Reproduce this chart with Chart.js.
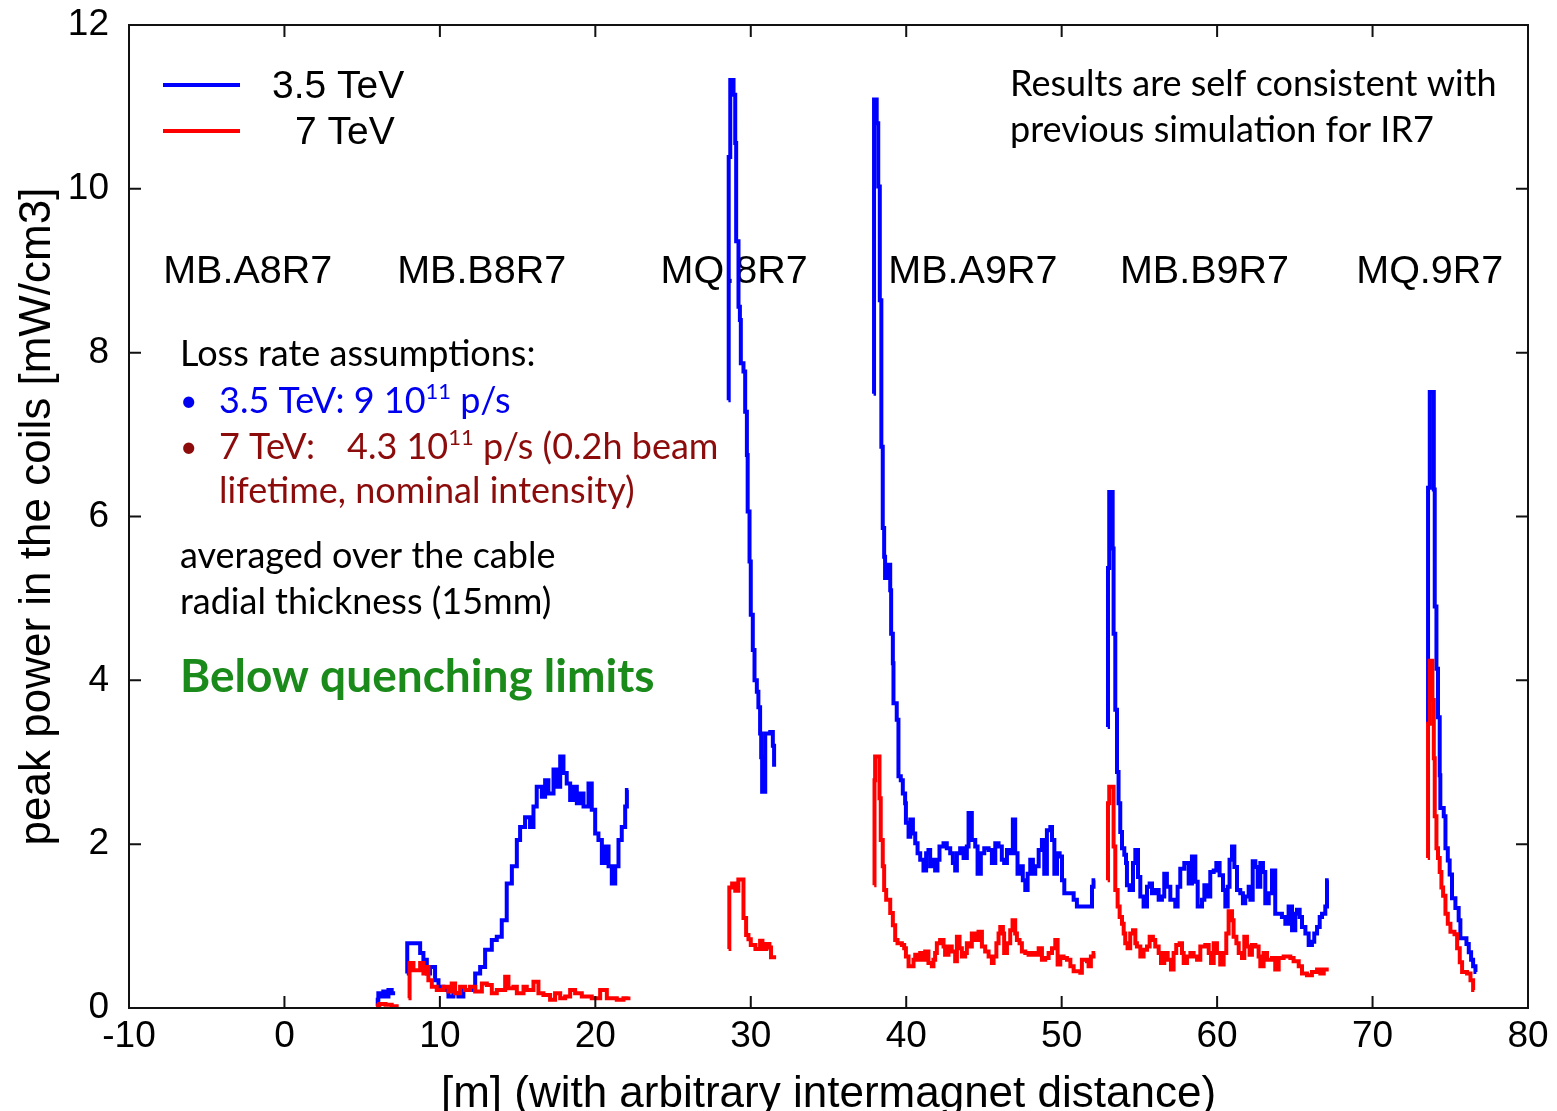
<!DOCTYPE html>
<html>
<head>
<meta charset="utf-8">
<script src="https://cdn.jsdelivr.net/npm/chart.js@4.4.1/dist/chart.umd.min.js"></script>
<style>
  html, body { margin: 0; padding: 0; background: #fff; }
  canvas { display: block; }
</style>
</head>
<body>
<canvas id="coils" width="1557" height="1111"></canvas>
<script>
// axis ranges
var xLimits = [-10, 80];
var yLimits = [0, 12];
var xStep = 10;
var yStep = 2;

var seriesNames = ['3.5 TeV', '7 TeV'];
var magnetNames = ['MB.A8R7', 'MB.B8R7', 'MQ.8R7', 'MB.A9R7', 'MB.B9R7', 'MQ.9R7'];

// 3.5 TeV, one array per magnet: [position m, peak power mW/cm3], value holds until next position
var blueA8 = [[5.94,0.02],[6.0,0.1],[6.04,0.18],[6.26,0.14],[6.36,0.2],[6.47,0.14],[6.69,0.22],[6.9,0.18],[7.12,0.18]];
var blueB8 = [[7.87,0.42],[7.9,0.79],[8.73,0.67],[8.94,0.59],[9.16,0.42],[9.37,0.5],[9.58,0.5],[9.69,0.34],[9.91,0.26],
  [10.23,0.22],[10.55,0.14],[10.87,0.18],[11.19,0.14],[11.51,0.22],[11.94,0.22],[12.27,0.42],[12.59,0.5],[12.91,0.71],
  [13.34,0.83],[13.66,0.87],[13.98,1.07],[14.3,1.52],[14.63,1.73],[14.95,2.05],[15.16,2.21],[15.48,2.33],[15.8,2.21],
  [16.02,2.46],[16.23,2.7],[16.56,2.58],[16.77,2.78],[16.98,2.62],[17.31,2.91],[17.52,2.7],[17.74,3.07],[17.95,2.87],
  [18.16,2.74],[18.38,2.54],[18.59,2.7],[18.81,2.5],[19.02,2.62],[19.24,2.46],[19.56,2.74],[19.77,2.42],[19.99,2.13],
  [20.2,2.05],[20.42,1.77],[20.63,1.97],[20.85,1.73],[21.06,1.52],[21.28,1.73],[21.49,2.05],[21.7,2.21],[21.92,2.46],
  [22.03,2.66],[22.13,2.66]];
var blueQ8 = [[28.56,7.42],[28.58,10.39],[28.68,11.33],[28.89,11.15],[29.0,10.56],[29.06,9.36],[29.21,8.56],[29.3,8.4],
  [29.36,7.87],[29.53,7.77],[29.64,7.28],[29.75,6.75],[29.8,6.06],[29.92,5.45],[30.0,4.8],[30.13,4.37],[30.24,4.0],
  [30.39,3.86],[30.49,3.67],[30.6,3.35],[30.67,3.06],[30.73,2.64],[30.93,3.35],[31.25,3.37],[31.42,3.2],[31.5,2.97],[31.63,2.97]];
var blueA9 = [[37.9,7.5],[37.93,11.09],[38.1,10.8],[38.2,10.03],[38.3,8.64],[38.4,6.85],[38.49,5.86],[38.58,5.51],
  [38.64,5.25],[38.75,5.41],[38.97,5.1],[39.03,4.57],[39.14,4.21],[39.18,3.72],[39.39,3.52],[39.5,2.83],[39.65,2.78],
  [39.78,2.62],[39.93,2.5],[39.98,2.26],[40.15,2.09],[40.26,2.3],[40.43,2.13],[40.58,2.01],[40.73,1.89],[40.9,1.81],
  [41.11,1.68],[41.28,1.89],[41.43,1.93],[41.54,1.73],[41.65,1.81],[41.86,1.68],[42.01,1.81],[42.14,1.97],[42.4,2.01],
  [42.61,1.95],[42.83,1.89],[43.0,1.77],[43.15,1.68],[43.26,1.89],[43.47,1.95],[43.69,1.83],[43.9,1.97],[44.01,2.38],
  [44.22,2.05],[44.44,1.97],[44.59,1.64],[44.8,1.89],[45.02,1.95],[45.3,1.93],[45.51,1.77],[45.73,2.01],[45.94,1.97],
  [46.15,1.81],[46.3,1.77],[46.48,1.93],[46.69,1.89],[46.86,2.3],[47.01,1.89],[47.16,1.64],[47.33,1.73],[47.5,1.56],
  [47.66,1.44],[47.81,1.64],[47.98,1.81],[48.15,1.64],[48.3,1.73],[48.52,1.93],[48.73,2.05],[48.88,1.64],[49.05,2.17],
  [49.27,2.21],[49.38,2.05],[49.53,1.64],[49.7,1.89],[49.87,1.85],[50.02,1.56],[50.17,1.4],[50.56,1.4],[50.77,1.32],
  [50.98,1.24],[51.84,1.24],[51.95,1.48],[52.05,1.56],[52.16,1.56]];
var blueB9 = [[52.96,3.43],[52.98,5.37],[53.06,6.3],[53.28,5.61],[53.34,4.57],[53.45,3.64],[53.56,2.88],[53.66,2.5],
  [53.77,2.15],[53.88,1.95],[54.03,1.87],[54.14,1.77],[54.2,1.5],[54.37,1.44],[54.59,1.77],[54.74,1.93],[54.91,1.6],
  [55.06,1.36],[55.27,1.24],[55.49,1.48],[55.66,1.52],[55.81,1.4],[56.02,1.44],[56.24,1.32],[56.45,1.36],[56.6,1.64],
  [56.77,1.48],[56.99,1.32],[57.31,1.24],[57.46,1.48],[57.63,1.7],[57.89,1.77],[58.17,1.52],[58.38,1.85],[58.6,1.54],
  [58.75,1.24],[59.03,1.32],[59.18,1.5],[59.35,1.36],[59.56,1.66],[59.78,1.68],[59.95,1.77],[60.16,1.62],[60.38,1.44],
  [60.53,1.24],[60.68,1.48],[60.8,1.81],[60.96,1.97],[61.11,1.72],[61.28,1.44],[61.49,1.4],[61.66,1.28],[61.81,1.36],
  [62.03,1.48],[62.14,1.32],[62.29,1.79],[62.46,1.72],[62.61,1.48],[62.78,1.77],[62.95,1.66],[63.1,1.28],[63.32,1.4],
  [63.53,1.68],[63.74,1.15],[63.96,1.15],[64.17,1.11],[64.39,1.03],[64.6,1.24],[64.82,0.95],[65.03,1.15],[65.14,1.2],
  [65.31,1.11],[65.46,0.99],[65.68,0.91],[65.89,0.77],[66.1,0.81],[66.25,0.91],[66.43,0.99],[66.6,1.11],[66.75,1.15],
  [66.96,1.24],[67.07,1.56],[67.18,1.56]];
var blueQ9 = [[73.55,3.47],[73.57,6.35],[73.68,7.52],[73.94,6.33],[74.0,4.9],[74.11,4.14],[74.21,3.55],[74.32,2.84],
  [74.36,2.44],[74.58,2.34],[74.69,1.95],[74.84,1.8],[74.96,1.63],[75.11,1.34],[75.33,1.22],[75.54,1.07],[75.65,0.85],
  [75.87,0.85],[76.04,0.78],[76.19,0.68],[76.34,0.59],[76.47,0.51],[76.62,0.44],[76.68,0.44]];

// 7 TeV
var redA8 = [[5.9,0.03],[6.1,0.05],[6.5,0.04],[6.9,0.02],[7.35,0.02]];
var redB8 = [[7.98,0.12],[8.05,0.55],[8.3,0.46],[8.73,0.55],[8.94,0.42],[9.05,0.5],[9.26,0.34],[9.48,0.26],[9.8,0.22],
  [10.23,0.26],[10.55,0.2],[10.76,0.3],[10.98,0.18],[11.3,0.26],[11.62,0.22],[11.94,0.26],[12.27,0.2],[12.7,0.3],
  [13.02,0.28],[13.34,0.18],[13.66,0.22],[14.2,0.38],[14.41,0.24],[14.73,0.26],[14.95,0.18],[15.38,0.26],[15.59,0.22],
  [16.02,0.32],[16.34,0.18],[16.66,0.16],[17.09,0.1],[17.41,0.18],[17.74,0.12],[18.06,0.14],[18.38,0.22],[18.7,0.18],
  [19.13,0.14],[19.45,0.14],[19.77,0.12],[20.31,0.22],[20.74,0.12],[21.38,0.1],[21.81,0.12],[22.13,0.14]];
var redQ8 = [[28.57,0.72],[28.62,1.47],[28.8,1.52],[29.0,1.43],[29.2,1.57],[29.53,1.1],[29.7,0.89],[29.85,0.84],
  [30.0,0.77],[30.3,0.72],[30.6,0.82],[30.75,0.72],[31.0,0.78],[31.2,0.74],[31.3,0.62],[31.63,0.62]];
var redA9 = [[37.94,1.5],[37.96,2.78],[38.0,3.07],[38.28,2.56],[38.36,2.05],[38.49,1.73],[38.58,1.44],[38.71,1.32],
  [38.97,1.16],[39.14,1.01],[39.29,0.83],[39.44,0.79],[39.72,0.77],[39.87,0.73],[39.98,0.63],[40.15,0.51],[40.47,0.59],
  [40.58,0.65],[40.79,0.59],[40.9,0.67],[41.11,0.59],[41.22,0.69],[41.43,0.55],[41.65,0.51],[41.75,0.59],[41.86,0.67],
  [41.97,0.79],[42.18,0.83],[42.4,0.75],[42.5,0.65],[42.72,0.75],[42.93,0.69],[43.15,0.57],[43.26,0.87],[43.43,0.73],
  [43.58,0.63],[43.79,0.67],[43.9,0.79],[44.12,0.75],[44.22,0.91],[44.44,0.83],[44.65,0.93],[44.87,0.75],[45.08,0.69],
  [45.3,0.63],[45.51,0.55],[45.62,0.63],[45.8,0.79],[45.94,0.91],[46.05,0.99],[46.22,0.91],[46.3,0.67],[46.48,0.79],
  [46.69,0.95],[46.84,1.07],[47.01,0.91],[47.12,0.83],[47.29,0.79],[47.44,0.69],[47.66,0.67],[47.87,0.65],[48.09,0.67],
  [48.3,0.65],[48.52,0.73],[48.73,0.59],[48.94,0.61],[49.16,0.67],[49.38,0.73],[49.59,0.83],[49.74,0.53],[49.91,0.63],
  [50.12,0.61],[50.34,0.59],[50.56,0.51],[50.77,0.45],[51.2,0.43],[51.3,0.59],[51.63,0.57],[51.73,0.51],[51.88,0.63],
  [52.05,0.67],[52.16,0.67]];
var redB9 = [[52.96,1.56],[52.98,2.5],[53.06,2.7],[53.34,1.97],[53.45,1.44],[53.6,1.24],[53.73,1.11],[53.88,1.03],
  [53.99,0.91],[54.09,0.79],[54.24,0.73],[54.41,0.91],[54.59,0.95],[54.74,0.79],[54.84,0.75],[55.06,0.63],[55.27,0.71],
  [55.49,0.75],[55.66,0.87],[55.87,0.83],[56.02,0.75],[56.24,0.67],[56.39,0.55],[56.6,0.67],[56.82,0.59],[57.03,0.47],
  [57.2,0.67],[57.37,0.77],[57.59,0.79],[57.74,0.67],[57.85,0.55],[58.06,0.63],[58.28,0.67],[58.49,0.63],[58.71,0.59],
  [58.92,0.75],[59.24,0.77],[59.46,0.67],[59.61,0.55],[59.78,0.79],[59.99,0.67],[60.2,0.53],[60.42,0.67],[60.59,0.91],
  [60.74,1.18],[60.96,1.07],[61.06,0.87],[61.24,0.79],[61.39,0.67],[61.6,0.61],[61.75,0.87],[61.92,0.75],[62.09,0.65],
  [62.24,0.77],[62.46,0.75],[62.67,0.63],[62.78,0.51],[62.99,0.67],[63.21,0.59],[63.53,0.61],[63.74,0.47],[63.96,0.61],
  [64.28,0.63],[64.71,0.61],[64.92,0.57],[65.25,0.51],[65.46,0.42],[65.78,0.4],[66.1,0.44],[66.43,0.47],[66.64,0.42],
  [66.86,0.47],[67.18,0.47]];
var redQ9 = [[73.55,1.83],[73.57,3.47],[73.68,4.24],[73.85,3.76],[73.94,3.05],[74.0,2.34],[74.11,1.95],[74.21,1.83],
  [74.32,1.66],[74.43,1.47],[74.54,1.37],[74.69,1.15],[74.84,1.03],[75.01,0.93],[75.27,0.9],[75.44,0.73],[75.61,0.56],
  [75.76,0.44],[76.08,0.42],[76.3,0.34],[76.47,0.22],[76.55,0.22]];

var blueSegments = [blueA8, blueB8, blueQ8, blueA9, blueB9, blueQ9];
var redSegments = [redA8, redB8, redQ8, redA9, redB9, redQ9];

// join magnets into one series, with a null point between them so the line breaks
function toPoints(segments) {
    var pts = [];
    segments.forEach(function (seg) {
        seg.forEach(function (p) { pts.push({ x: p[0], y: p[1] }); });
        pts.push({ x: seg[seg.length - 1][0] + 0.05, y: null });
    });
    return pts;
}

var sansFamily = '"Liberation Sans", Arial, sans-serif';
var tickFont = { family: sansFamily, size: 37 };
var textFont = 'Lato, "Open Sans", sans-serif';

// frame with inward ticks, legend, labels and notes
var decorations = {
    id: 'decorations',
    beforeDatasetsDraw: function (chart) {
        var ctx = chart.ctx, a = chart.chartArea, xs = chart.scales.x, ys = chart.scales.y;
        ctx.save();
        ctx.textBaseline = 'alphabetic';
        ctx.textAlign = 'left';

        // magnet names along the beam line
        var magnetX = [-7.8, 7.25, 24.2, 38.85, 53.75, 68.95];
        ctx.font = '39.5px ' + sansFamily;
        ctx.fillStyle = '#000';
        magnetNames.forEach(function (name, i) {
            ctx.fillText(name, xs.getPixelForValue(magnetX[i]), ys.getPixelForValue(8.85));
        });

        var L = a.left + 51, T = a.top;
        ctx.font = '36px ' + textFont;
        ctx.fillStyle = '#000';
        ctx.fillText('Results are self consistent with', a.left + 881, T + 71);
        ctx.fillText('previous simulation for IR7', a.left + 881, T + 117);
        ctx.fillText('Loss rate assumptions:', L, T + 341);

        // line with a superscript exponent
        function runs(parts, x0, y0, color) {
            var x = x0;
            ctx.fillStyle = color;
            parts.forEach(function (p) {
                if (p.gapTo) { x = p.gapTo; return; }
                ctx.font = (p.sup ? '22px ' : '36px ') + textFont;
                ctx.fillText(p.t, x, y0 - (p.sup ? 14 : 0));
                x += ctx.measureText(p.t).width;
            });
        }
        var blueText = '#0000f0', darkRed = '#8c0b0b';
        ctx.fillStyle = blueText;
        ctx.font = '30px ' + textFont;
        ctx.fillText('\u2022', a.left + 51, T + 386);
        runs([{ t: '3.5 TeV: 9 10' }, { t: '11', sup: true }, { t: ' p/s' }], a.left + 90, T + 388, blueText);
        ctx.fillStyle = darkRed;
        ctx.font = '30px ' + textFont;
        ctx.fillText('\u2022', a.left + 51, T + 432);
        runs([{ t: '7 TeV:' }, { gapTo: a.left + 218 }, { t: '4.3 10' }, { t: '11', sup: true },
              { t: ' p/s (0.2h beam' }], a.left + 90, T + 434, darkRed);
        ctx.font = '36px ' + textFont;
        ctx.fillText('lifetime, nominal intensity)', a.left + 90, T + 478);

        ctx.fillStyle = '#000';
        ctx.fillText('averaged over the cable', L, T + 543);
        ctx.fillText('radial thickness (15mm)', L, T + 589);

        ctx.font = 'bold 46px ' + textFont;
        ctx.fillStyle = '#1a8a1a';
        ctx.fillText('Below quenching limits', L, T + 667);
        ctx.restore();
    },
    afterDatasetsDraw: function (chart) {
        var ctx = chart.ctx, a = chart.chartArea, xs = chart.scales.x, ys = chart.scales.y;
        ctx.save();
        ctx.strokeStyle = '#111';
        ctx.lineWidth = 2;
        ctx.strokeRect(a.left, a.top, a.right - a.left, a.bottom - a.top);
        var tl = 12;
        ctx.beginPath();
        xs.ticks.forEach(function (t) {
            var px = xs.getPixelForValue(t.value);
            ctx.moveTo(px, a.bottom); ctx.lineTo(px, a.bottom - tl);
            ctx.moveTo(px, a.top); ctx.lineTo(px, a.top + tl);
        });
        ys.ticks.forEach(function (t) {
            var py = ys.getPixelForValue(t.value);
            ctx.moveTo(a.left, py); ctx.lineTo(a.left + tl, py);
            ctx.moveTo(a.right, py); ctx.lineTo(a.right - tl, py);
        });
        ctx.stroke();

        // legend
        var colors = ['#0000ff', '#ff0000'];
        var textX = [a.left + 143, a.left + 166];
        ctx.lineWidth = 4;
        ctx.font = '39px ' + sansFamily;
        ctx.fillStyle = '#000';
        seriesNames.forEach(function (name, i) {
            var yy = a.top + 60 + i * 46;
            ctx.strokeStyle = colors[i];
            ctx.beginPath();
            ctx.moveTo(a.left + 34, yy);
            ctx.lineTo(a.left + 111, yy);
            ctx.stroke();
            ctx.fillText(name, textX[i], yy + 13);
        });
        ctx.restore();
    }
};

var ctx = document.getElementById('coils').getContext('2d');
var coilChart = new Chart(ctx, {
    type: 'line',
    data: {
        datasets: [{
            label: seriesNames[0],
            data: toPoints(blueSegments),
            borderColor: '#0000ff',
            borderWidth: 4,
            pointRadius: 0,
            stepped: true,
            spanGaps: false,
            order: 1
        }, {
            label: seriesNames[1],
            data: toPoints(redSegments),
            borderColor: '#ff0000',
            borderWidth: 4,
            pointRadius: 0,
            stepped: true,
            spanGaps: false,
            order: 0
        }]
    },
    options: {
        responsive: false,
        animation: false,
        layout: { padding: { top: 25, right: 29, left: 0, bottom: 0 } },
        plugins: {
            legend: { display: false },
            tooltip: { enabled: false }
        },
        scales: {
            x: {
                type: 'linear',
                min: xLimits[0],
                max: xLimits[1],
                ticks: { stepSize: xStep, color: '#000', font: tickFont, padding: 7, maxRotation: 0 },
                grid: { display: false, drawTicks: false },
                border: { display: false },
                title: {
                    display: true,
                    text: '[m] (with arbitrary intermagnet distance)',
                    color: '#000',
                    font: { family: sansFamily, size: 44, lineHeight: 1.0 },
                    padding: { top: 0, bottom: -6 }
                },
                afterFit: function (s) { s.height = 103; s.paddingLeft = 0; s.paddingRight = 0; }
            },
            y: {
                min: yLimits[0],
                max: yLimits[1],
                ticks: { stepSize: yStep, color: '#000', font: tickFont, padding: 20 },
                grid: { display: false, drawTicks: false },
                border: { display: false },
                title: {
                    display: true,
                    text: 'peak power in the coils [mW/cm3]',
                    color: '#000',
                    font: { family: sansFamily, size: 44, lineHeight: 1.0 },
                    padding: { top: 16, bottom: 0 }
                },
                afterFit: function (s) { s.width = 129; s.paddingTop = 0; s.paddingBottom = 0; }
            }
        }
    },
    plugins: [decorations]
});
</script>
</body>
</html>
